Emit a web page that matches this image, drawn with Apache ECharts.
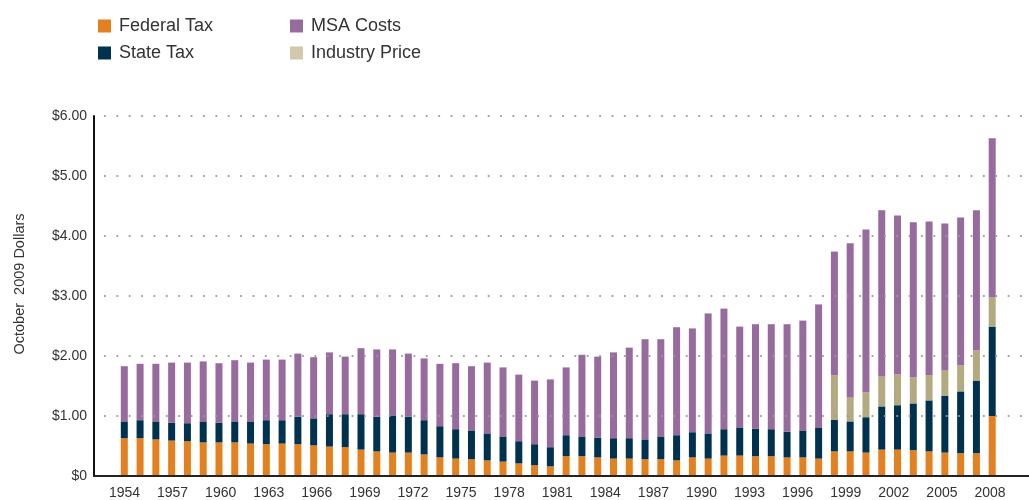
<!DOCTYPE html>
<html>
<head>
<meta charset="utf-8">
<script src="https://cdn.jsdelivr.net/npm/echarts@6/dist/echarts.min.js"></script>
<style>
html,body{margin:0;padding:0;background:#fff;}
#chart{width:1029px;height:500px;}
</style>
</head>
<body>
<div id="chart"></div>
<script>
const years = ['1954','1955','1956','1957','1958','1959','1960','1961','1962','1963',
  '1964','1965','1966','1967','1968','1969','1970','1971','1972','1973',
  '1974','1975','1976','1977','1978','1979','1980','1981','1982','1983',
  '1984','1985','1986','1987','1988','1989','1990','1991','1992','1993',
  '1994','1995','1996','1997','1998','1999','2000','2001','2002','2003',
  '2004','2005','2006','2007','2008','2009'];

const federalTax = [0.63,0.63,0.61,0.59,0.58,0.56,0.56,0.56,0.54,0.53,
  0.54,0.53,0.51,0.49,0.48,0.44,0.41,0.39,0.39,0.36,
  0.31,0.29,0.28,0.26,0.24,0.21,0.18,0.16,0.33,0.33,
  0.31,0.29,0.29,0.28,0.28,0.26,0.31,0.29,0.34,0.34,
  0.33,0.33,0.31,0.31,0.29,0.41,0.41,0.39,0.44,0.44,
  0.43,0.41,0.39,0.38,0.38,1.00];

const stateTax = [0.28,0.30,0.30,0.30,0.30,0.35,0.33,0.35,0.37,0.40,
  0.39,0.46,0.45,0.54,0.55,0.59,0.58,0.62,0.60,0.57,
  0.52,0.49,0.48,0.45,0.42,0.37,0.35,0.32,0.35,0.33,
  0.33,0.34,0.34,0.33,0.38,0.42,0.42,0.42,0.44,0.47,
  0.46,0.45,0.43,0.45,0.52,0.53,0.50,0.59,0.72,0.74,
  0.78,0.85,0.95,1.03,1.21,1.49];

const industryPrice = [0,0,0,0,0,0,0,0,0,0,
  0,0,0,0,0,0,0,0,0,0,
  0,0,0,0,0,0,0,0,0,0,
  0,0,0,0,0,0,0,0,0,0,
  0,0,0,0,0,0.74,0.40,0.41,0.50,0.51,
  0.43,0.42,0.42,0.43,0.50,0.49];

const msaCosts = [0.92,0.94,0.96,1.00,1.01,1.00,0.99,1.02,0.98,1.01,
  1.01,1.05,1.02,1.03,0.96,1.10,1.12,1.10,1.05,1.03,
  1.04,1.10,1.07,1.18,1.15,1.11,1.06,1.13,1.13,1.36,
  1.35,1.43,1.51,1.67,1.62,1.80,1.73,2.00,2.01,1.68,
  1.74,1.75,1.79,1.83,2.05,2.06,2.57,2.72,2.77,2.65,
  2.59,2.56,2.45,2.47,2.34,2.65];

const xTickLabels = ['1954','1957','1960','1963','1966','1969','1972','1975','1978','1981',
  '1984','1987','1990','1993','1996','1999','2002','2005','2008'];

const yTickLabels = ['$0','$1.00','$2.00','$3.00','$4.00','$5.00','$6.00'];

const FONT = "'Liberation Sans', Arial, Helvetica, sans-serif";
const colors = {
  federal: '#E3801F',
  state: '#00324F',
  msa: '#986B9E',
  industry: '#B3AA80',
  industryLegend: '#D0C9AB'
};

const chart = echarts.init(document.getElementById('chart'), null, {renderer:'canvas'});

const barCommon = { type:'bar', stack:'total', barWidth:7, xAxisIndex:1, yAxisIndex:1 };

const legendText = {fontSize:18, color:'#333', fontFamily:FONT, padding:[0,0,0,3]};

chart.setOption({
  animation:false,
  backgroundColor:'#fff',
  grid:[
    {left:94, right:0, top:116, height:360},
    {left:116.41, right:28.91, top:116, height:360},
    {left:124.5, right:39, top:475, height:1}
  ],
  legend:[
    {left:93, top:12, orient:'vertical', icon:'rect', itemWidth:13, itemHeight:13, itemGap:9,
     selectedMode:false, textStyle:legendText,
     data:[{name:'Federal Tax'},{name:'State Tax'}]},
    {left:285, top:12, orient:'vertical', icon:'rect', itemWidth:13, itemHeight:13, itemGap:9,
     selectedMode:false, textStyle:legendText,
     data:[{name:'MSA Costs'},{name:'Industry Price', itemStyle:{color:colors.industryLegend}}]}
  ],
  xAxis:[
    {type:'value', gridIndex:0, min:0, max:1, z:5,
     axisLine:{show:true, onZero:false, lineStyle:{color:'#222', width:2}},
     axisTick:{show:false}, axisLabel:{show:false}, splitLine:{show:false}},
    {type:'category', gridIndex:1, data:years, show:false},
    {type:'category', gridIndex:2, boundaryGap:false, data:xTickLabels,
     axisLine:{show:false}, axisTick:{show:false}, splitLine:{show:false},
     axisLabel:{interval:0, margin:10, color:'#333', fontSize:14, fontFamily:FONT}}
  ],
  yAxis:[
    {type:'value', gridIndex:0, min:0, max:6, interval:1, z:5,
     axisLine:{show:true, lineStyle:{color:'#111', width:2}},
     axisTick:{show:false},
     axisLabel:{formatter:function(v){return yTickLabels[Math.round(v)];}, margin:7, color:'#333', fontSize:14, fontFamily:FONT},
     splitLine:{show:true, lineStyle:{type:[0.01,12.37], dashOffset:1.5, cap:'round', width:2.2, color:'#9a9a9a'}}},
    {type:'value', gridIndex:1, show:false, min:0, max:6},
    {type:'value', gridIndex:2, show:false, min:0, max:1}
  ],
  graphic:[
    {type:'text', x:20, y:284, rotation:Math.PI/2,
     style:{text:'October  2009 Dollars', fill:'#333', font:"14.5px 'Liberation Sans', Arial, sans-serif", align:'center', verticalAlign:'middle'}}
  ],
  series:[
    Object.assign({name:'Federal Tax', data:federalTax, itemStyle:{color:colors.federal}}, barCommon),
    Object.assign({name:'State Tax', data:stateTax, itemStyle:{color:colors.state}}, barCommon),
    Object.assign({name:'Industry Price', data:industryPrice, itemStyle:{color:colors.industry}}, barCommon),
    Object.assign({name:'MSA Costs', data:msaCosts, itemStyle:{color:colors.msa}}, barCommon)
  ]
});
</script>
</body>
</html>
